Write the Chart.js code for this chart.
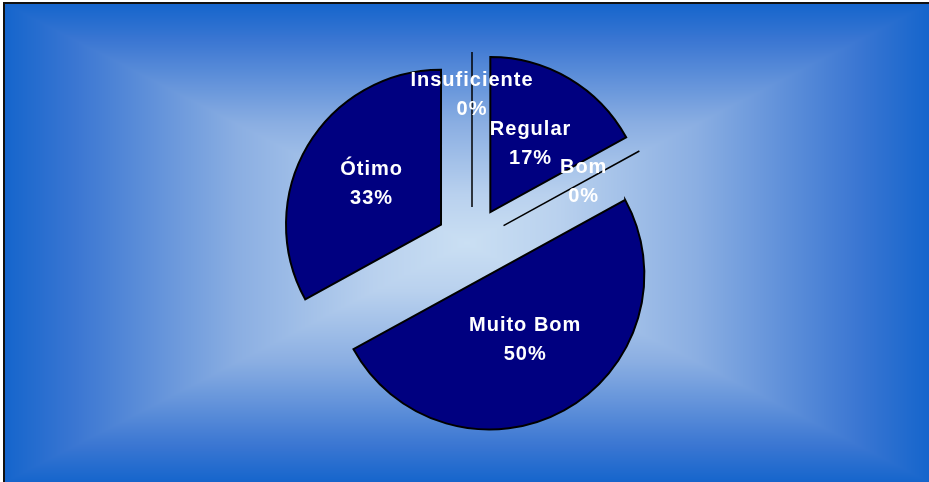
<!DOCTYPE html>
<html>
<head>
<meta charset="utf-8">
<script src="https://cdn.jsdelivr.net/npm/chart.js@4.4.1/dist/chart.umd.min.js"></script>
<style>
  html, body { margin: 0; padding: 0; background: #fff; }
  #wrap { position: relative; width: 929px; height: 482px; }
</style>
</head>
<body>
<div id="wrap"><canvas id="pieChart"></canvas></div>
<script>
// data (percent)
const categories = ['Insuficiente', 'Regular', 'Bom', 'Muito Bom', 'Ótimo'];
const percentValues = [0, 17, 0, 50, 33];

const EXPLODE = 36;          // px each slice is pulled out
const SLICE_COLOR = '#000080';
// distance of each label from the slice tip, as part of the radius
const labelDist = [0.72, 0.51, 0.59, 0.48, 0.52];

// gradient stops, edge (0) -> center (1)
const bgStops = [
  [0, [21, 101, 204]],
  [0.15, [58, 118, 210]],
  [0.5, [138, 174, 226]],
  [0.8, [185, 209, 238]],
  [1, [202, 223, 243]]
];

function bgColor(t) {
  for (let i = 1; i < bgStops.length; i++) {
    if (t <= bgStops[i][0]) {
      const [t0, c0] = bgStops[i - 1], [t1, c1] = bgStops[i];
      const f = (t - t0) / (t1 - t0);
      return c0.map((v, k) => v + (c1[k] - v) * f);
    }
  }
  return bgStops[bgStops.length - 1][1];
}

let bgImage = null;

// rectangular "from center" gradient behind the chart + black frame
const backdrop = {
  id: 'backdrop',
  beforeDraw(chart) {
    const ctx = chart.ctx;
    const w = chart.width, h = chart.height;
    const x0 = 5, y0 = 4;
    const cx = (x0 + w) / 2, cy = (y0 + h) / 2;
    const hw = (w - x0) / 2, hh = (h - y0) / 2;
    if (!bgImage || bgImage.width !== w || bgImage.height !== h) {
      bgImage = ctx.createImageData(w, h);
      const d = bgImage.data;
      for (let y = 0; y < h; y++) {
        for (let x = 0; x < w; x++) {
          const p = (y * w + x) * 4;
          let c = [255, 255, 255];
          if (x >= x0 && y >= y0) {
            const t = 1 - Math.max(Math.abs(x + 0.5 - cx) / hw, Math.abs(y + 0.5 - cy) / hh);
            c = bgColor(Math.max(0, t));
          }
          d[p] = c[0]; d[p + 1] = c[1]; d[p + 2] = c[2]; d[p + 3] = 255;
        }
      }
    }
    ctx.putImageData(bgImage, 0, 0);
    ctx.save();
    ctx.strokeStyle = '#111';
    ctx.lineWidth = 2;
    ctx.beginPath();
    ctx.moveTo(4, h);
    ctx.lineTo(4, 3);
    ctx.lineTo(w, 3);
    ctx.stroke();
    ctx.restore();
  }
};

// pulls every slice out along its middle, draws 0% slices as a line, then labels
const explodedPie = {
  id: 'explodedPie',
  beforeDatasetDraw(chart, args) {
    const ctx = chart.ctx;
    args.meta.data.forEach(arc => {
      const mid = (arc.startAngle + arc.endAngle) / 2;
      ctx.save();
      ctx.translate(Math.cos(mid) * EXPLODE, Math.sin(mid) * EXPLODE);
      if (arc.circumference === 0) {
        ctx.strokeStyle = '#000';
        ctx.lineWidth = 1.5;
        ctx.beginPath();
        ctx.moveTo(arc.x, arc.y);
        ctx.lineTo(arc.x + Math.cos(mid) * arc.outerRadius, arc.y + Math.sin(mid) * arc.outerRadius);
        ctx.stroke();
      } else {
        arc.draw(ctx);
      }
      ctx.restore();
    });
    return false;
  },
  afterDatasetsDraw(chart) {
    const ctx = chart.ctx;
    const meta = chart.getDatasetMeta(0);
    ctx.save();
    ctx.fillStyle = '#fff';
    ctx.font = 'bold 20px "Liberation Sans", Arial, sans-serif';
    ctx.letterSpacing = '1px';
    ctx.textAlign = 'center';
    ctx.textBaseline = 'middle';
    meta.data.forEach((arc, i) => {
      const mid = (arc.startAngle + arc.endAngle) / 2;
      const d = EXPLODE + labelDist[i] * arc.outerRadius;
      const lx = arc.x + Math.cos(mid) * d;
      const ly = arc.y + Math.sin(mid) * d;
      ctx.fillText(categories[i], lx, ly - 14.5);
      ctx.fillText(percentValues[i] + '%', lx, ly + 14.5);
    });
    ctx.restore();
  }
};

new Chart(document.getElementById('pieChart'), {
  type: 'pie',
  data: {
    labels: categories,
    datasets: [{
      data: percentValues,
      backgroundColor: SLICE_COLOR,
      borderColor: '#000',
      borderWidth: 2,
      borderJoinStyle: 'miter'
    }]
  },
  options: {
    responsive: true,
    maintainAspectRatio: false,
    animation: false,
    events: [],
    layout: { padding: { top: 87, bottom: 83, left: 272, right: 257 } },
    plugins: {
      legend: { display: false },
      tooltip: { enabled: false }
    }
  },
  plugins: [backdrop, explodedPie]
});
</script>
</body>
</html>
